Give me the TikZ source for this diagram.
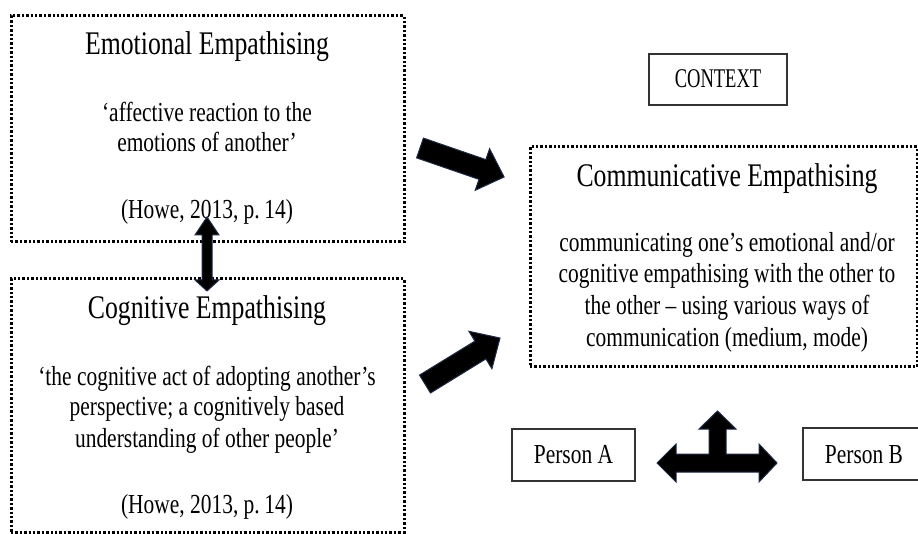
\documentclass[tikz,border=0pt]{standalone}
\usepackage{fontspec}
\setmainfont[FakeStretch=0.78]{Liberation Serif}
\definecolor{arrowedge}{HTML}{1F2A44}
\definecolor{boxedge}{HTML}{333333}
\tikzset{
  dotbox/.style={draw=black, line width=3pt, dash pattern=on 2.4pt off 2.0pt, inner sep=0pt},
  solidbox/.style={draw=boxedge, line width=1.2pt, inner sep=0pt},
  blockarrow/.style={fill=black, draw=arrowedge, line width=1pt, line join=miter},
  titletext/.style={inner sep=0pt, anchor=base, font=\fontsize{33}{38}\selectfont},
  bodytext/.style={inner sep=0pt, anchor=base, font=\fontsize{27.5}{32}\selectfont},
  labeltext/.style={inner sep=0pt, anchor=base, font=\fontsize{27.5}{32}\selectfont},
}
\begin{document}
\begin{tikzpicture}[x=1pt, y=-1pt]
\useasboundingbox (0,0) rectangle (918,534);

% boxes
\node[dotbox, minimum width=393pt, minimum height=226pt] (emo) at (207.5,129) {};
\node[dotbox, minimum width=393pt, minimum height=253pt] (cog) at (207.5,405.5) {};
\node[dotbox, minimum width=387pt, minimum height=220pt] (com) at (723.5,257) {};
\node[solidbox, minimum width=138pt, minimum height=51pt] (ctx) at (718,79.5) {};
\node[solidbox, minimum width=123pt, minimum height=52pt] (pa) at (573.5,455) {};
\node[solidbox, minimum width=122pt, minimum height=52pt] (pb) at (864,454) {};

% texts: emotional
\node[titletext] (emoT) at (207,55) {Emotional Empathising};
\node[bodytext] (emo1) at (207,121.7) {‘affective reaction to the};
\node[bodytext] (emo2) at (207,151.7) {emotions of another’};
\node[bodytext] (emo3) at (207,219) {(Howe, 2013, p.\,14)};

% texts: cognitive
\node[titletext] (cogT) at (207,319) {Cognitive Empathising};
\node[bodytext] (cog1) at (207,385) {‘the cognitive act of adopting another’s};
\node[bodytext] (cog2) at (207,415.7) {perspective; a cognitively based};
\node[bodytext] (cog3) at (207,447) {understanding of other people’};
\node[bodytext] (cog4) at (207,513) {(Howe, 2013, p.\,14)};

% texts: communicative
\node[titletext] (comT) at (727,186.7) {Communicative Empathising};
\node[bodytext] (com1) at (727,251.7) {communicating one’s emotional and/or};
\node[bodytext] (com2) at (727,282.7) {cognitive empathising with the other to};
\node[bodytext] (com3) at (727,315) {the other – using various ways of};
\node[bodytext] (com4) at (727,347) {communication (medium, mode)};

% small labels
\node[labeltext] (ctxT) at (718,88) {\scalebox{0.88}[1]{\fontsize{27}{30}\selectfont CONTEXT}};
\node[labeltext] (paT) at (573.5,463) {Person A};
\node[labeltext] (pbT) at (864,463) {Person B};

% block arrow emotional -> communicative
\draw[blockarrow] (423.4,138.1) -- (485.8,159.6) -- (489.6,148.7) -- (504.1,177)
  -- (475.2,190.3) -- (479.0,179.4) -- (416.6,157.9) -- cycle;
% block arrow cognitive -> communicative
\draw[blockarrow] (419.5,375.1) -- (474.9,341.1) -- (468.9,331.3) -- (500,338)
  -- (491.9,368.75) -- (485.9,358.9) -- (430.5,393.0) -- cycle;
% vertical double arrow between emotional and cognitive
\draw[blockarrow] (207,217) -- (219,235) -- (212,235) -- (212,280) -- (219,280)
  -- (207,291) -- (195,280) -- (202,280) -- (202,235) -- (195,235) -- cycle;
% three-way arrow between persons
\draw[blockarrow] (657,463) -- (676,444) -- (676,454) -- (709,454) -- (709,429)
  -- (699,429) -- (717.5,411) -- (736,429) -- (726,429) -- (726,454) -- (759,454)
  -- (759,444) -- (777,463) -- (759,482) -- (759,472) -- (676,472) -- (676,482) -- cycle;
\end{tikzpicture}
\end{document}
